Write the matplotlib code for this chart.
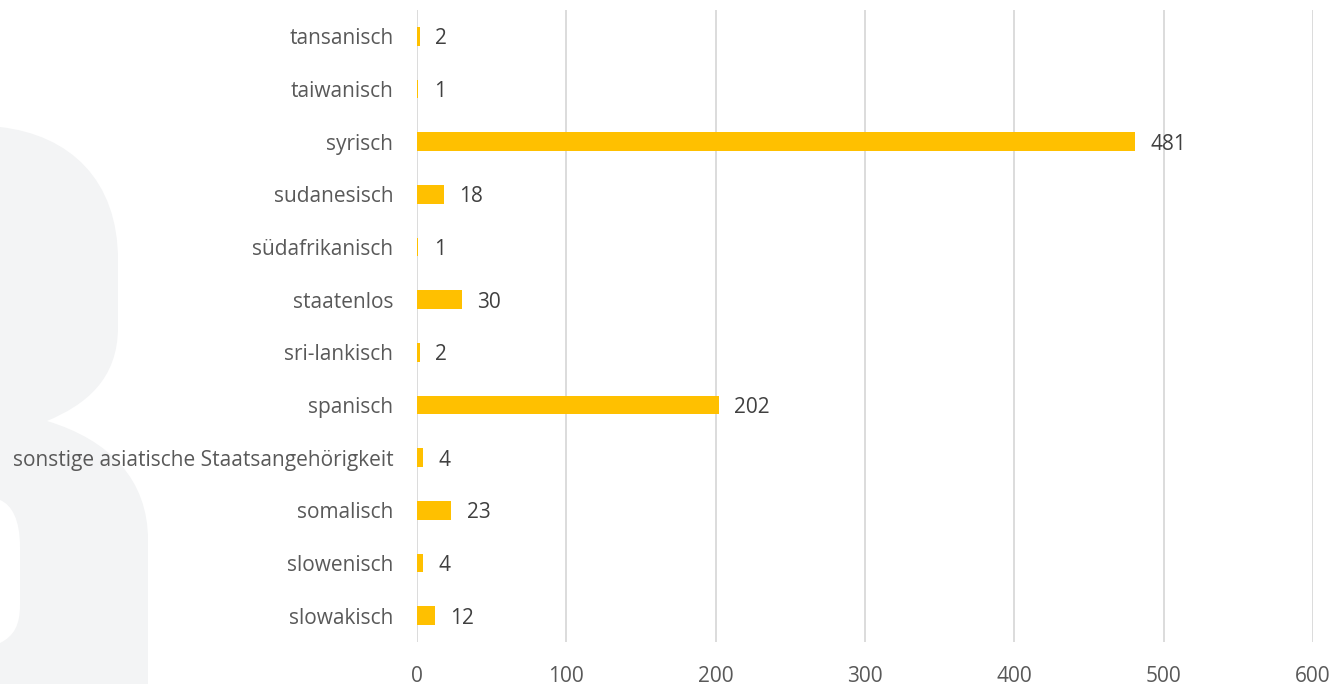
import matplotlib.pyplot as plt
from matplotlib.path import Path
from matplotlib.patches import PathPatch

categories = [
    "tansanisch", "taiwanisch", "syrisch", "sudanesisch", "südafrikanisch",
    "staatenlos", "sri-lankisch", "spanisch",
    "sonstige asiatische Staatsangehörigkeit", "somalisch", "slowenisch", "slowakisch",
]
values = [2, 1, 481, 18, 1, 30, 2, 202, 4, 23, 4, 12]
x_ticks = [0, 100, 200, 300, 400, 500, 600]

BAR = "#FFC000"
GRID = "#D9D9D9"
TXT = "#595959"
plt.rcParams["font.family"] = ["Open Sans", "DejaVu Sans"]

W, H = 1335, 684
fig = plt.figure(figsize=(W / 100, H / 100), dpi=100)

# decorative watermark shape in the background (pixel coordinates)
bg = fig.add_axes([0, 0, 1, 1], zorder=0)
bg.set_xlim(0, W)
bg.set_ylim(H, 0)
bg.axis("off")
M, C, L, Z = Path.MOVETO, Path.CURVE4, Path.LINETO, Path.CLOSEPOLY
verts = [
    (0, 127),
    (70, 135), (118, 180), (118, 260),
    (118, 327),
    (118, 380), (85, 405), (47, 421),
    (110, 440), (148, 480), (148, 540),
    (148, 684),
    (0, 684),
    (0, 643),
    (14, 636), (20, 625), (20, 605),
    (20, 547),
    (20, 520), (12, 505), (0, 500),
    (0, 127),
]
codes = [M, C, C, C, L, C, C, C, C, C, C, L, L, L, C, C, C, L, C, C, C, Z]
bg.add_patch(PathPatch(Path(verts, codes), facecolor="#F3F4F5", edgecolor="none"))

ax = fig.add_axes([417 / W, (H - 642) / H, (1313 - 417) / W, 632 / H], zorder=1)
ax.patch.set_alpha(0)
y = list(range(len(categories)))
ax.barh(y, values, height=0.36, color=BAR, zorder=3)
for yi, v in zip(y, values):
    ax.annotate(str(v), (v, yi), xytext=(11, 0), textcoords="offset points",
                ha="left", va="center_baseline", fontsize=15, color="#404040")

ax.set_xlim(0, 600)
ax.set_ylim(len(categories) - 0.5, -0.5)
ax.set_xticks(x_ticks)
ax.set_xticklabels([str(t) for t in x_ticks])
ax.set_yticks(y)
ax.set_yticklabels(categories)
ax.tick_params(axis="both", length=0, labelsize=15, labelcolor=TXT)
ax.tick_params(axis="y", pad=17)
ax.tick_params(axis="x", pad=17)
ax.grid(axis="x", color=GRID, linewidth=1.3, zorder=0)
for s in ["top", "right", "bottom", "left"]:
    ax.spines[s].set_visible(False)

fig.savefig("out.png", dpi=100)
